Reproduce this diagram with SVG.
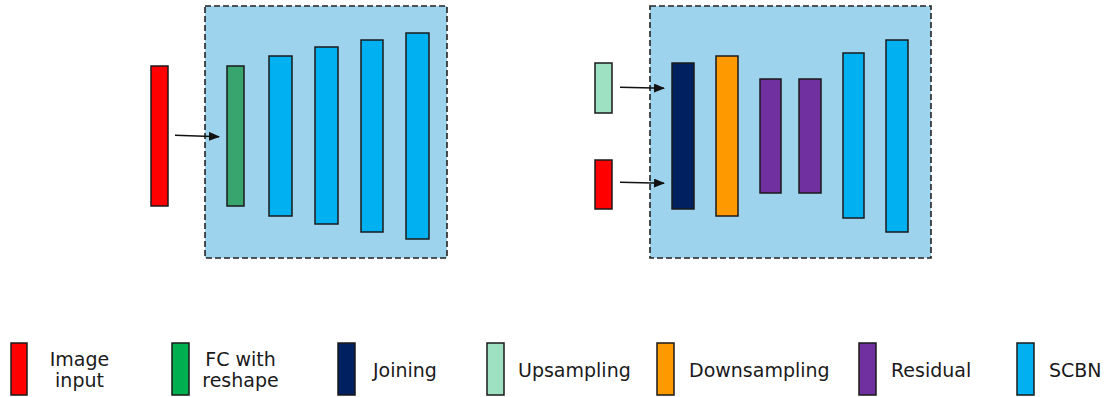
<svg xmlns="http://www.w3.org/2000/svg" width="1110" height="397" viewBox="0 0 1110 397">
<defs>
<style>
.panel{fill:#9dd3ed;stroke:#222;stroke-width:1.6;stroke-dasharray:6,3}
.blk{stroke:#1a1a1a;stroke-width:1.5}
.red{fill:#ff0000}.grn{fill:#38a56f}.lg{fill:#00b050}.blue{fill:#00b0f0}.navy{fill:#002060}
.org{fill:#ff9900}.pur{fill:#7030a0}.up{fill:#9de0c2}
.lbl{font-family:"DejaVu Sans",Verdana,sans-serif;font-size:19px;fill:#1a1a1a}
.conn{stroke:#111;stroke-width:1.5;fill:none}
</style>
<marker id="ah" markerWidth="11" markerHeight="9" refX="10" refY="4.5" orient="auto" markerUnits="userSpaceOnUse">
<path d="M0,0 L11,4.5 L0,9 Z" fill="#111"/>
</marker>
</defs>
<rect width="1110" height="397" fill="#fff"/>
<g id="panel-left"><rect class="panel" x="205" y="6" width="242" height="252"/></g>
<g id="panel-right"><rect class="panel" x="650" y="6" width="281" height="252"/></g>
<g id="left-input"><rect class="blk red" x="151" y="66" width="17" height="140"/></g>
<g id="left-fc"><rect class="blk grn" x="227" y="66" width="17" height="140"/></g>
<g id="left-scbn1"><rect class="blk blue" x="269" y="56" width="23" height="160"/></g>
<g id="left-scbn2"><rect class="blk blue" x="315" y="47" width="23" height="177"/></g>
<g id="left-scbn3"><rect class="blk blue" x="361" y="40" width="22" height="192"/></g>
<g id="left-scbn4"><rect class="blk blue" x="406" y="33" width="23" height="206"/></g>
<g id="right-up"><rect class="blk up" x="595" y="63" width="17" height="50"/></g>
<g id="right-input"><rect class="blk red" x="595" y="160" width="17" height="49"/></g>
<g id="right-join"><rect class="blk navy" x="672" y="63" width="22" height="146"/></g>
<g id="right-down"><rect class="blk org" x="716" y="56" width="22" height="160"/></g>
<g id="right-res1"><rect class="blk pur" x="760" y="79" width="21" height="114"/></g>
<g id="right-res2"><rect class="blk pur" x="799" y="79" width="22" height="114"/></g>
<g id="right-scbn1"><rect class="blk blue" x="843" y="53" width="21" height="165"/></g>
<g id="right-scbn2"><rect class="blk blue" x="886" y="40" width="22" height="192"/></g>
<g id="connectors">
<line class="conn" x1="175" y1="135.3" x2="219" y2="136.7" marker-end="url(#ah)"/>
<line class="conn" x1="620" y1="87.3" x2="664" y2="88.3" marker-end="url(#ah)"/>
<line class="conn" x1="620" y1="182.3" x2="664" y2="183.3" marker-end="url(#ah)"/>
</g>
<g id="legend-image"><rect class="blk red" x="11" y="343" width="16" height="52"/>
<text class="lbl" x="79.5" y="366" text-anchor="middle">Image</text><text class="lbl" x="79.5" y="387" text-anchor="middle">input</text></g>
<g id="legend-fc"><rect class="blk lg" x="172" y="343" width="17" height="52"/>
<text class="lbl" x="240.5" y="366" text-anchor="middle">FC with</text><text class="lbl" x="240.5" y="387" text-anchor="middle">reshape</text></g>
<g id="legend-join"><rect class="blk navy" x="338" y="343" width="17" height="52"/>
<text class="lbl" x="373" y="377">Joining</text></g>
<g id="legend-up"><rect class="blk up" x="487" y="343" width="17" height="52"/>
<text class="lbl" x="518" y="377">Upsampling</text></g>
<g id="legend-down"><rect class="blk org" x="657" y="343" width="17" height="52"/>
<text class="lbl" x="689" y="377">Downsampling</text></g>
<g id="legend-res"><rect class="blk pur" x="859" y="343" width="17" height="52"/>
<text class="lbl" x="891" y="377">Residual</text></g>
<g id="legend-scbn"><rect class="blk blue" x="1017" y="343" width="17" height="52"/>
<text class="lbl" x="1049" y="377">SCBN</text></g>
</svg>
